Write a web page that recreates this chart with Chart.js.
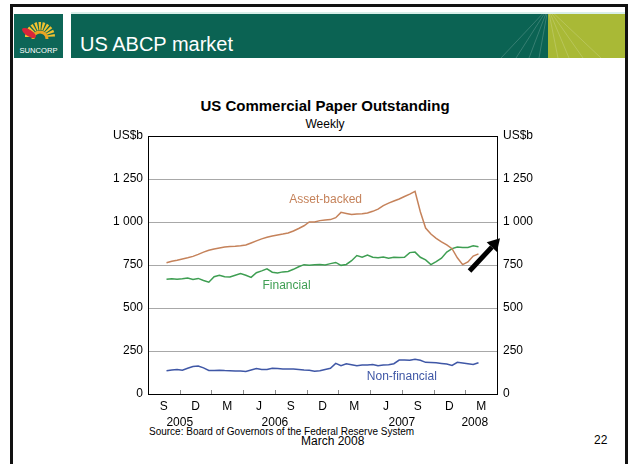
<!DOCTYPE html>
<html>
<head>
<meta charset="utf-8">
<title>US ABCP market</title>
<script src="https://cdn.jsdelivr.net/npm/chart.js@4.4.1/dist/chart.umd.min.js"></script>
<style>
  html, body { margin: 0; padding: 0; background: #fff; }
  body { width: 632px; height: 464px; position: relative; overflow: hidden;
         font-family: Arial, "Liberation Sans", sans-serif; color: #000; }
  #frame { position: absolute; left: 10px; top: 4px; width: 612px; height: 480px;
           border: 3px solid #111; border-bottom: none; }
  #logo { position: absolute; left: 14px; top: 14px; width: 49px; height: 44px; background: #0d6657; }
  #bar { position: absolute; left: 71px; top: 12px; width: 554px; height: 46px; overflow: hidden;
         background: linear-gradient(to right, #0b6353 0, #0b6353 477px, #a9b936 477px, #a9b936 100%); }
  #bar .hl { position: absolute; left: 0; top: 0; width: 100%; height: 2px; background: #d9efe9; }
  #bar svg { position: absolute; left: 0; top: 0; }
  #bar h1 { position: absolute; left: 9px; top: 21px; margin: 0; font-weight: normal;
            font-size: 20px; line-height: 22px; color: #fff; }
  .txt { position: absolute; white-space: nowrap; }
  #chartTitle { left: 0; width: 650px; text-align: center; top: 97px; font-weight: bold; font-size: 15px; }
  #chartSub { left: 0; width: 650px; text-align: center; top: 117px; font-size: 12px; }
  #source { left: 149px; top: 426px; font-size: 10px; }
  #date { left: 301px; top: 434px; font-size: 12px; }
  #page { left: 594px; top: 433px; font-size: 12px; }
  canvas { position: absolute; left: 0; top: 0; }
</style>
</head>
<body>
<div id="frame"></div>
<div id="logo">
  <svg width="49" height="44" viewBox="0 0 49 44">
    <path d="M15 23 A11 11 0 0 1 37 23" fill="none" stroke="#f2c230" stroke-width="8" stroke-dasharray="2 1.2"/>
    <path d="M19 25 A7 7 0 0 1 33 25" fill="none" stroke="#e9a524" stroke-width="3"/>
    <ellipse cx="15" cy="19" rx="8" ry="3.2" fill="#d8263a" transform="rotate(32 15 19)"/>
    <text x="24.5" y="39" text-anchor="middle" font-size="7" fill="#fff" font-family="Arial" textLength="38" lengthAdjust="spacingAndGlyphs">SUNCORP</text>
  </svg>
</div>
<div id="bar">
  <div class="hl"></div>
  <svg width="554" height="46" viewBox="0 0 554 46">
    <g stroke="rgba(255,255,255,0.18)" stroke-width="1">
      <line x1="477" y1="-4" x2="430" y2="46"/>
      <line x1="477" y1="-4" x2="445" y2="46"/>
      <line x1="477" y1="-4" x2="458" y2="46"/>
      <line x1="477" y1="-4" x2="468" y2="46"/>
      <line x1="477" y1="-4" x2="487" y2="46"/>
      <line x1="477" y1="-4" x2="498" y2="46"/>
      <line x1="477" y1="-4" x2="512" y2="46"/>
      <line x1="477" y1="-4" x2="530" y2="46"/>
    </g>
  </svg>
  <h1>US ABCP market</h1>
</div>
<div class="txt" id="chartTitle">US Commercial Paper Outstanding</div>
<div class="txt" id="chartSub">Weekly</div>
<div class="txt" id="source">Source: Board of Governors of the Federal Reserve System</div>
<div class="txt" id="date">March 2008</div>
<div class="txt" id="page">22</div>
<canvas id="cpChart" width="632" height="464"></canvas>

<script>
// observation points, in months since 1 July 2005 (fortnightly)
const obsMonth = [
  1.75, 2.25, 2.75, 3.25, 3.75, 4.25, 4.75, 5.25, 5.75, 6.25,
  6.75, 7.25, 7.75, 8.25, 8.75, 9.25, 9.75, 10.25, 10.75, 11.25,
  11.75, 12.25, 12.75, 13.25, 13.75, 14.25, 14.75, 15.25, 15.75, 16.25,
  16.75, 17.25, 17.75, 18.25, 18.75, 19.25, 19.75, 20.25, 20.75, 21.25,
  21.75, 22.25, 22.75, 23.25, 23.75, 24.25, 24.75, 25.25, 25.75, 26.25,
  26.75, 27.25, 27.75, 28.25, 28.75, 29.25, 29.75, 30.25, 30.75, 31.25
];

// US$b outstanding
const assetBacked = [
  763, 772, 778, 785, 792, 800, 812, 825, 836, 843,
  849, 854, 857, 859, 862, 866, 878, 890, 902, 911,
  918, 925, 930, 936, 948, 962, 978, 1000, 1000, 1008,
  1012, 1014, 1025, 1056, 1050, 1043, 1046, 1048, 1052, 1062,
  1075, 1095, 1110, 1122, 1134, 1148, 1162, 1178, 1060, 965,
  930, 905, 885, 867, 845, 792, 752, 768, 802, 815
];
const financial = [
  667, 670, 667, 670, 674, 666, 672, 660, 650, 682,
  690, 682, 680, 690, 700, 690, 678, 705, 716, 728,
  708, 703, 710, 712, 725, 740, 752, 748, 752, 753,
  750, 758, 765, 748, 753, 775, 805, 795, 808, 795,
  792, 797, 790, 795, 793, 795, 822, 825, 795, 780,
  752, 770, 790, 825, 845, 855, 852, 852, 862, 856
];
const nonFinancial = [
  135, 140, 143, 138, 150, 160, 163, 152, 137, 137,
  138, 136, 135, 134, 134, 131, 140, 148, 142, 143,
  150, 148, 145, 146, 146, 143, 140, 138, 133, 135,
  143, 150, 178, 164, 176, 170, 164, 168, 168, 172,
  164, 168, 170, 176, 197, 197, 196, 202, 196, 184,
  183, 182, 178, 174, 166, 184, 180, 176, 172, 182
];

// axis labels
const quarterLabels = ['S', 'D', 'M', 'J', 'S', 'D', 'M', 'J', 'S', 'D', 'M'];
const quarterCentres = [1.5, 4.5, 7.5, 10.5, 13.5, 16.5, 19.5, 22.5, 25.5, 28.5, 31.5];
const quarterBounds = [3, 6, 9, 12, 15, 18, 21, 24, 27, 30];
const yearLabels = ['2005', '2006', '2007', '2008'];
const yearCentres = [3, 12, 24, 30.9];
const yTicks = [0, 250, 500, 750, 1000, 1250, 1500];

const colours = { ab: '#c5825a', fin: '#3e9e52', nonfin: '#3f57a6' };

function toPoints(values) {
  return values.map((v, i) => ({ x: obsMonth[i], y: v }));
}

function fmtTick(v) {
  if (v === 1500) return 'US$b';
  return v >= 1000 ? Math.floor(v / 1000) + ' ' + String(v % 1000).padStart(3, '0') : String(v);
}

// quarter tick marks, in-chart series labels and the pointer arrow
const overlays = {
  id: 'overlays',
  afterDatasetsDraw(chart) {
    const { ctx, chartArea, scales } = chart;
    const x = scales.x, y = scales.y;
    ctx.save();

    ctx.strokeStyle = '#8a8a8a';
    ctx.lineWidth = 1;
    quarterBounds.forEach(m => {
      const px = Math.round(x.getPixelForValue(m)) + 0.5;
      ctx.beginPath();
      ctx.moveTo(px, chartArea.bottom);
      ctx.lineTo(px, chartArea.bottom - 4);
      ctx.stroke();
    });

    ctx.font = '12px Arial, "Liberation Sans", sans-serif';
    ctx.textAlign = 'center';
    ctx.textBaseline = 'middle';
    [['Asset-backed', 16.8, 1131, colours.ab],
     ['Financial', 13.1, 627, colours.fin],
     ['Non-financial', 24.0, 100, colours.nonfin]].forEach(([t, m, v, c]) => {
      ctx.fillStyle = c;
      ctx.fillText(t, x.getPixelForValue(m), y.getPixelForValue(v));
    });

    // arrow pointing at the right-hand axis
    const tipX = chartArea.right + 3, tipY = y.getPixelForValue(905);
    const tailX = x.getPixelForValue(30.4), tailY = y.getPixelForValue(715);
    const ang = Math.atan2(tipY - tailY, tipX - tailX);
    const headLen = 12, headW = 7;
    const baseX = tipX - headLen * Math.cos(ang), baseY = tipY - headLen * Math.sin(ang);
    ctx.strokeStyle = '#000';
    ctx.fillStyle = '#000';
    ctx.lineWidth = 5;
    ctx.lineCap = 'butt';
    ctx.beginPath();
    ctx.moveTo(tailX, tailY);
    ctx.lineTo(baseX, baseY);
    ctx.stroke();
    ctx.beginPath();
    ctx.moveTo(tipX, tipY);
    ctx.lineTo(baseX + headW * Math.sin(ang), baseY - headW * Math.cos(ang));
    ctx.lineTo(baseX - headW * Math.sin(ang), baseY + headW * Math.cos(ang));
    ctx.closePath();
    ctx.fill();

    ctx.restore();
  }
};

const tickFont = { family: 'Arial, "Liberation Sans", sans-serif', size: 12 };

new Chart(document.getElementById('cpChart'), {
  type: 'line',
  data: {
    datasets: [
      { label: 'Asset-backed', data: toPoints(assetBacked), borderColor: colours.ab },
      { label: 'Financial', data: toPoints(financial), borderColor: colours.fin },
      { label: 'Non-financial', data: toPoints(nonFinancial), borderColor: colours.nonfin }
    ]
  },
  options: {
    responsive: false,
    animation: false,
    devicePixelRatio: 1,
    layout: { padding: { left: 108, right: 95, top: 136, bottom: 38 } },
    elements: {
      line: { borderWidth: 1.5, tension: 0 },
      point: { radius: 0 }
    },
    plugins: { legend: { display: false }, tooltip: { enabled: false } },
    scales: {
      x: {
        type: 'linear', position: 'bottom', min: 0, max: 33,
        grid: { display: false, drawTicks: false },
        border: { display: true, color: '#000' },
        afterBuildTicks: s => { s.ticks = quarterCentres.map(v => ({ value: v })); },
        afterFit: s => { s.height = 16; },
        ticks: { autoSkip: false, maxRotation: 0, padding: 5, color: '#000', font: tickFont,
                 callback: (v, i) => quarterLabels[i] }
      },
      x2: {
        type: 'linear', position: 'bottom', min: 0, max: 33,
        grid: { display: false, drawTicks: false },
        border: { display: false },
        afterBuildTicks: s => { s.ticks = yearCentres.map(v => ({ value: v })); },
        afterFit: s => { s.height = 16; },
        ticks: { autoSkip: false, maxRotation: 0, padding: 5, color: '#000', font: tickFont,
                 callback: (v, i) => yearLabels[i] }
      },
      y: {
        position: 'left', min: 0, max: 1500,
        afterBuildTicks: s => { s.ticks = yTicks.map(v => ({ value: v })); },
        afterFit: s => { s.width = 40; },
        grid: {
          drawTicks: false,
          color: c => (c.tick && (c.tick.value === 1500 || c.tick.value === 0)) ? '#000' : '#a8a8a8'
        },
        border: { color: '#000' },
        ticks: { padding: 5, color: '#000', font: tickFont, callback: fmtTick }
      },
      y2: {
        position: 'right', min: 0, max: 1500,
        afterBuildTicks: s => { s.ticks = yTicks.map(v => ({ value: v })); },
        afterFit: s => { s.width = 40; },
        grid: { display: false, drawTicks: false },
        border: { color: '#000' },
        ticks: { padding: 6, color: '#000', font: tickFont, callback: fmtTick }
      }
    }
  },
  plugins: [overlays]
});
</script>
</body>
</html>
